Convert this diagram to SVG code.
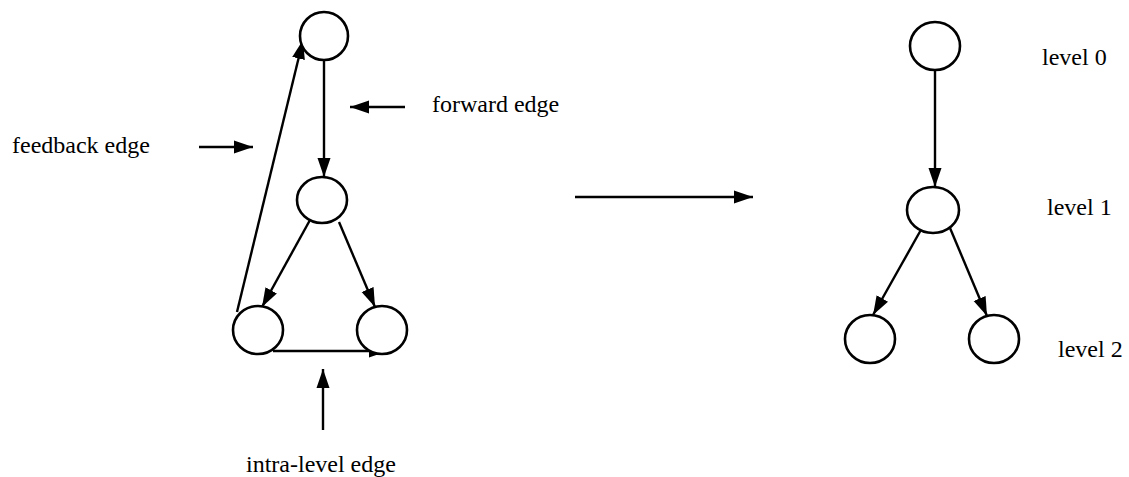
<svg xmlns="http://www.w3.org/2000/svg" width="1129" height="477" viewBox="0 0 1129 477">
  <style>
    .node { fill: #fff; stroke: #000; stroke-width: 2.6; }
    .edge { stroke: #000; stroke-width: 2.4; fill: none; marker-end: url(#arrow); }
    .label { font-size: 24px; fill: #000; }
  </style>
  <defs>
    <marker id="arrow" markerUnits="userSpaceOnUse" markerWidth="20" markerHeight="14" refX="19" refY="7" orient="auto">
      <path d="M0,0.5 L19,7 L0,13.5 Z" fill="#000"/>
    </marker>
  </defs>
  <rect width="1129" height="477" fill="#fff"/>

  <!-- connectors -->
  <g id="connectors">
    <!-- left graph -->
    <line class="edge" x1="324" y1="60" x2="324" y2="177"/>
    <line class="edge" x1="237" y1="312" x2="303" y2="40"/>
    <line class="edge" x1="310" y1="220" x2="262" y2="307"/>
    <line class="edge" x1="339" y1="222" x2="375" y2="307"/>
    <line class="edge" x1="273" y1="351" x2="388" y2="351"/>
    <!-- label pointers -->
    <line class="edge" x1="405" y1="107" x2="350" y2="107"/>
    <line class="edge" x1="199" y1="147" x2="253" y2="147"/>
    <line class="edge" x1="323" y1="430" x2="323" y2="369"/>
    <!-- transformation arrow -->
    <line class="edge" x1="575" y1="197" x2="753" y2="197"/>
    <!-- right graph -->
    <line class="edge" x1="935" y1="70" x2="935" y2="187"/>
    <line class="edge" x1="922" y1="228" x2="873" y2="315"/>
    <line class="edge" x1="950" y1="228" x2="987" y2="316"/>
  </g>

  <!-- left graph nodes -->
  <g id="a-top"><ellipse class="node" cx="324" cy="36" rx="24" ry="24"/></g>
  <g id="a-mid"><ellipse class="node" cx="322" cy="200" rx="25" ry="23"/></g>
  <g id="a-left"><ellipse class="node" cx="258" cy="330" rx="25" ry="24"/></g>
  <g id="a-right"><ellipse class="node" cx="382" cy="330" rx="25" ry="24"/></g>

  <!-- right graph nodes -->
  <g id="b-top"><ellipse class="node" cx="935" cy="46" rx="25" ry="24"/></g>
  <g id="b-mid"><ellipse class="node" cx="933" cy="210" rx="26" ry="23"/></g>
  <g id="b-left"><ellipse class="node" cx="870" cy="339" rx="25" ry="24"/></g>
  <g id="b-right"><ellipse class="node" cx="994" cy="339" rx="25" ry="24"/></g>

  <!-- labels -->
  <g id="labels" font-family="Liberation Serif, DejaVu Serif, serif">
    <text class="label" x="432" y="112">forward edge</text>
    <text class="label" x="12" y="153">feedback edge</text>
    <text class="label" x="246" y="472">intra-level edge</text>
    <text class="label" x="1042" y="65">level 0</text>
    <text class="label" x="1047" y="215">level 1</text>
    <text class="label" x="1058" y="357">level 2</text>
  </g>
</svg>
